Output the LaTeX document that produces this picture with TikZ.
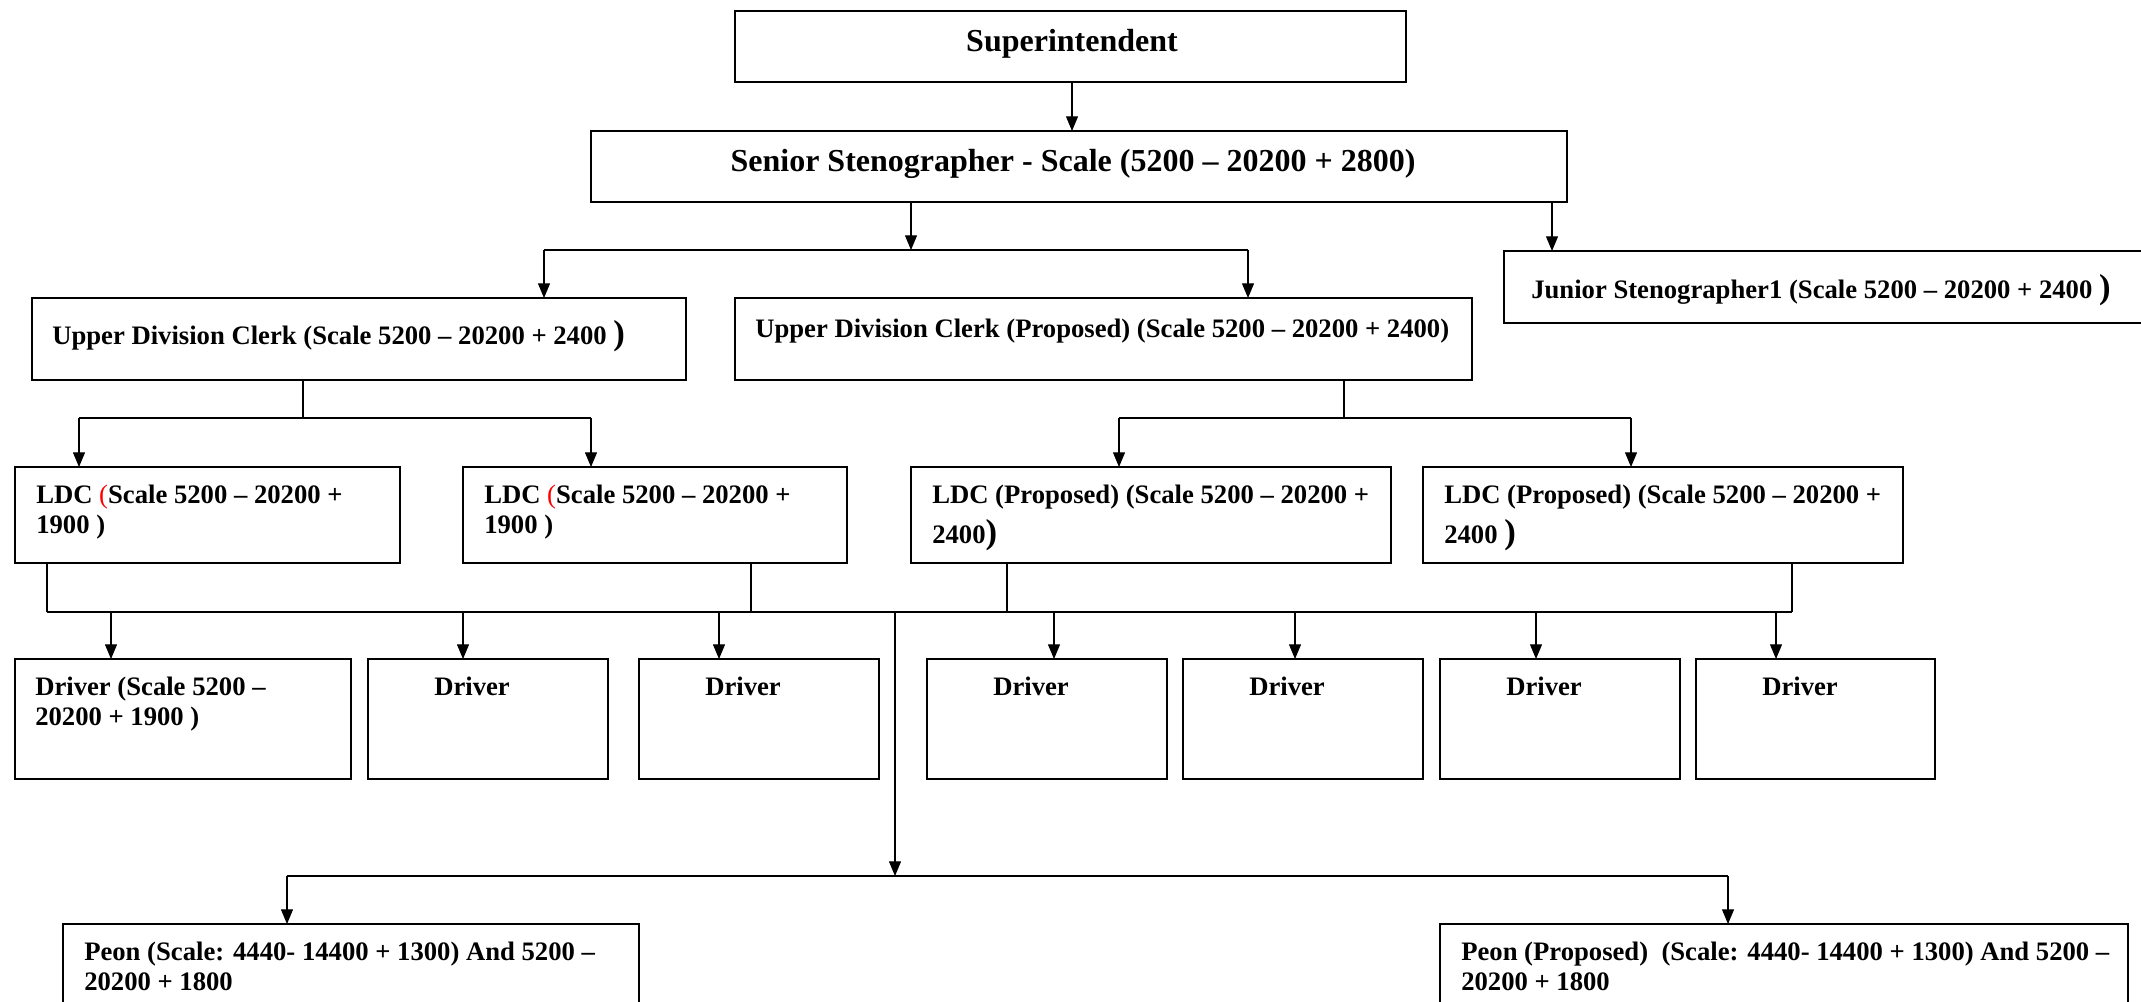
\documentclass[tikz,border=0pt]{standalone}
\usepackage{fontspec}
\setmainfont{Liberation Serif}
\usetikzlibrary{arrows.meta}

% box from (x1,y1) to (x2,y2) in pixel units: name, x1, y1, x2, y2
\newcommand\orgbox[5]{%
  \node[orgframe, minimum width={(#4-#2)*0.75pt}, minimum height={(#5-#3)*0.75pt}]
    (#1) at ({(#2+#4)/2},{(#3+#5)/2}) {};}
% enlarged closing parenthesis
\newcommand\bigparen{{\fontsize{26}{26}\selectfont)}}

\tikzset{
  x=0.75pt, y=-0.75pt,
  orgframe/.style={draw, line width=1.2pt, inner sep=0pt, outer sep=0pt},
  lbl/.style={anchor=base west, inner sep=0pt, font=\bfseries\fontsize{20}{24}\selectfont},
  lblc/.style={anchor=base, inner sep=0pt, font=\bfseries\fontsize{20}{24}\selectfont},
  lblbig/.style={anchor=base, inner sep=0pt, font=\bfseries\fontsize{24}{28}\selectfont},
  wire/.style={line width=0.8pt},
  bar/.style={line width=1.2pt},
  arr/.style={wire, -{Triangle[length=11pt,width=9pt]}},
}

\begin{document}
\begin{tikzpicture}
\useasboundingbox (0,0) rectangle (2141,1001);
\clip (0,0) rectangle (2141,1001);

% ---- boxes ----
\orgbox{sup}{735}{11}{1406}{82}
\orgbox{sen}{591}{131}{1567}{202}
\orgbox{udcL}{32}{298}{686}{380}
\orgbox{udcP}{735}{298}{1472}{380}
\orgbox{jun}{1504}{251}{2170}{323}
\orgbox{ldc1}{15}{467}{400}{563}
\orgbox{ldc2}{463}{467}{847}{563}
\orgbox{ldc3}{911}{467}{1391}{563}
\orgbox{ldc4}{1423}{467}{1903}{563}
\orgbox{d1}{15}{659}{351}{779}
\orgbox{d2}{368}{659}{608}{779}
\orgbox{d3}{639}{659}{879}{779}
\orgbox{d4}{927}{659}{1167}{779}
\orgbox{d5}{1183}{659}{1423}{779}
\orgbox{d6}{1440}{659}{1680}{779}
\orgbox{d7}{1696}{659}{1935}{779}
\orgbox{p1}{63}{924}{639}{1040}
\orgbox{p2}{1440}{924}{2128}{1040}

% ---- labels ----
\node[lblbig] (supT) at (1072,51) {Superintendent};
\node[lblbig] (senT) at (1073,171) {Senior Stenographer - Scale (5200 – 20200 + 2800)};
\node[lbl] (udcLT) at (52,344) {Upper Division Clerk (Scale 5200 – 20200 + 2400 \bigparen};
\node[lbl] (udcPT) at (755,337) {Upper Division Clerk (Proposed) (Scale 5200 – 20200 + 2400)};
\node[lbl] (junT) at (1531,298) {Junior Stenographer1 (Scale 5200 – 20200 + 2400 \bigparen};

\node[lbl] (ldc1a) at (36,503) {LDC {\color{red}\mdseries(}Scale 5200 – 20200 +};
\node[lbl] (ldc1b) at (36,533) {1900 )};
\node[lbl] (ldc2a) at (484,503) {LDC {\color{red}\mdseries(}Scale 5200 – 20200 +};
\node[lbl] (ldc2b) at (484,533) {1900 )};
\node[lbl] (ldc3a) at (932,503) {LDC (Proposed) (Scale 5200 – 20200 +};
\node[lbl] (ldc3b) at (932,543) {2400\bigparen};
\node[lbl] (ldc4a) at (1444,503) {LDC (Proposed) (Scale 5200 – 20200 +};
\node[lbl] (ldc4b) at (1444,543) {2400 \bigparen};

\node[lbl] (d1a) at (35,695) {Driver (Scale 5200 –};
\node[lbl] (d1b) at (35,725) {20200 + 1900 )};
\node[lblc] (d2t) at (472,695) {Driver};
\node[lblc] (d3t) at (743,695) {Driver};
\node[lblc] (d4t) at (1031,695) {Driver};
\node[lblc] (d5t) at (1287,695) {Driver};
\node[lblc] (d6t) at (1544,695) {Driver};
\node[lblc] (d7t) at (1800,695) {Driver};

\node[lbl] (p1a) at (84,960) {Peon (Scale: 4440- 14400 + 1300) And 5200 –};
\node[lbl] (p1b) at (84,990) {20200 + 1800};
\node[lbl] (p2a) at (1461,960) {Peon (Proposed)~ (Scale: 4440- 14400 + 1300) And 5200 –};
\node[lbl] (p2b) at (1461,990) {20200 + 1800};

% ---- branch points ----
\coordinate (k0) at (1072,100);
\coordinate (s1) at (911,250);
\coordinate (s1a) at (544,250);
\coordinate (s1b) at (1248,250);
\coordinate (js) at (1552,250);
\coordinate (u1) at (303,418);
\coordinate (u1a) at (79,418);
\coordinate (u1b) at (591,418);
\coordinate (u2) at (1344,418);
\coordinate (u2a) at (1119,418);
\coordinate (u2b) at (1631,418);
\coordinate (bus1) at (47,612);
\coordinate (bus2) at (751,612);
\coordinate (bus3) at (1007,612);
\coordinate (bus4) at (1792,612);
\coordinate (busc) at (895,612);
\coordinate (pc) at (895,876);
\coordinate (pa) at (287,876);
\coordinate (pb) at (1728,876);

% ---- connectors ----
\draw[arr] (sup.south -| k0) -- (sen.north -| k0);
\draw[arr] (sen.south -| s1) -- (s1);
\draw[bar] (s1a) -- (s1b);
\draw[arr] (s1a) -- (s1a |- udcL.north);
\draw[arr] (s1b) -- (s1b |- udcP.north);
\draw[arr] (sen.south -| js) -- (jun.north -| js);

\draw[wire] (udcL.south -| u1) -- (u1);
\draw[bar] (u1a) -- (u1b);
\draw[arr] (u1a) -- (u1a |- ldc1.north);
\draw[arr] (u1b) -- (u1b |- ldc2.north);

\draw[wire] (udcP.south -| u2) -- (u2);
\draw[bar] (u2a) -- (u2b);
\draw[arr] (u2a) -- (u2a |- ldc3.north);
\draw[arr] (u2b) -- (u2b |- ldc4.north);

\draw[wire] (ldc1.south -| bus1) -- (bus1);
\draw[wire] (ldc2.south -| bus2) -- (bus2);
\draw[wire] (ldc3.south -| bus3) -- (bus3);
\draw[wire] (ldc4.south -| bus4) -- (bus4);
\draw[bar] (bus1) -- (bus4);

\foreach \d/\x in {d1/111, d2/463, d3/719, d4/1054, d5/1295, d6/1536, d7/1776} {
  \coordinate (t\d) at (\x,612);
  \draw[arr] (t\d) -- (t\d |- \d.north);
}

\draw[arr] (busc) -- (pc);
\draw[bar] (pa) -- (pb);
\draw[arr] (pa) -- (pa |- p1.north);
\draw[arr] (pb) -- (pb |- p2.north);
\end{tikzpicture}
\end{document}
